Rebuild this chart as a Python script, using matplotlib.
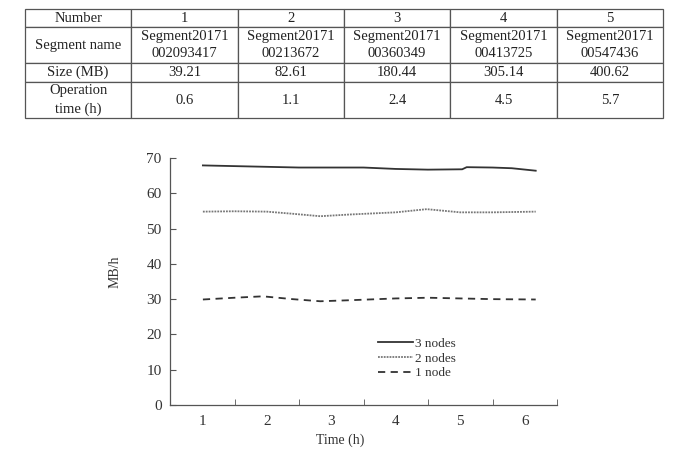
import matplotlib.pyplot as plt
from matplotlib.ticker import FixedLocator

plt.rcParams['font.family'] = ['Liberation Serif', 'DejaVu Serif']

# table data
row_heads = ['Number', 'Segment name', 'Size (MB)', 'Operation\ntime (h)']
numbers = ['1', '2', '3', '4', '5']
seg_names = ['Segment20171\n002093417', 'Segment20171\n00213672', 'Segment20171\n00360349',
             'Segment20171\n00413725', 'Segment20171\n00547436']
sizes = ['39.21', '82.61', '180.44', '305.14', '400.62']
op_times = ['0.6', '1.1', '2.4', '4.5', '5.7']

# line data
t3 = [1.01, 1.5, 2.0, 2.5, 3.0, 3.5, 4.0, 4.5, 5.03, 5.1, 5.5, 5.8, 6.17]
v3 = [67.9, 67.7, 67.5, 67.3, 67.3, 67.3, 66.9, 66.7, 66.8, 67.4, 67.3, 67.1, 66.4]
t2 = [1.01, 1.5, 2.0, 2.4, 2.83, 3.3, 4.0, 4.48, 5.0, 5.5, 6.17]
v2 = [54.8, 54.9, 54.8, 54.2, 53.5, 54.0, 54.6, 55.5, 54.6, 54.6, 54.8]
t1 = [1.01, 1.5, 1.94, 2.4, 2.83, 3.3, 4.0, 4.5, 5.0, 5.5, 6.17]
v1 = [29.9, 30.4, 30.8, 30.0, 29.4, 29.7, 30.2, 30.4, 30.2, 30.0, 29.9]

fig = plt.figure(figsize=(6.98, 4.5), dpi=100)

# ---- table ----
tax = fig.add_axes([25 / 698, 1 - 118 / 450, 638 / 698, 109 / 450])
tax.axis('off')
cells = [[row_heads[0]] + numbers,
         [row_heads[1]] + seg_names,
         [row_heads[2]] + sizes,
         [row_heads[3]] + op_times]
tbl = tax.table(cellText=cells, cellLoc='center', bbox=[0, 0, 1, 1])
tbl.auto_set_font_size(False)
tbl.set_fontsize(10.5)
row_h = [18, 36, 19, 36]
for (r, c), cell in tbl.get_celld().items():
    cell.set_height(row_h[r])
    cell.set_width(1.0)
    cell.set_edgecolor('#555555')
    cell.set_linewidth(0.9)
    cell.get_text().set_linespacing(1.45)
    cell.get_text().set_color('#222222')
    cell.PAD = 0.02

# ---- line chart ----
ax = fig.add_axes([170 / 698, 45 / 450, 387 / 698, 247 / 450])
ax.plot(t3, v3, color='#333333', lw=1.3, ls='-', label='3 nodes')
ax.plot(t2, v2, color='#777777', lw=1.3, ls=(0, (1, 0.6)), label='2 nodes')
ax.plot(t1, v1, color='#333333', lw=1.3, ls=(0, (4, 3)), label='1 node')

ax.set_xlim(0.5, 6.5)
ax.set_ylim(0, 70)
ax.set_xticks([1, 2, 3, 4, 5, 6])
ax.xaxis.set_minor_locator(FixedLocator([0.5, 1.5, 2.5, 3.5, 4.5, 5.5, 6.5]))
ax.tick_params(axis='x', which='major', length=0, labelsize=11, pad=7, colors='#333333')
ax.tick_params(axis='x', which='minor', direction='in', length=4, color='#555555')
ax.set_yticks(range(0, 71, 10))
ax.tick_params(axis='y', direction='in', length=4, labelsize=11, pad=6,
               color='#555555', labelcolor='#333333')
for s in ['top', 'right']:
    ax.spines[s].set_visible(False)
for s in ['left', 'bottom']:
    ax.spines[s].set_color('#555555')
    ax.spines[s].set_linewidth(0.9)

ax.set_xlabel('Time (h)', fontsize=10, color='#333333')
ax.xaxis.set_label_coords(0.44, -0.115)
ax.set_ylabel('MB/h', fontsize=10, color='#333333')
ax.yaxis.set_label_coords(-0.125, 0.54)

ax.legend(loc='upper left', bbox_to_anchor=(0.52, 0.3), frameon=False, fontsize=9.5,
          handlelength=2.7, handletextpad=0.15, labelspacing=0.2, borderpad=0,
          labelcolor='#333333')

fig.savefig('out.png', dpi=100)
